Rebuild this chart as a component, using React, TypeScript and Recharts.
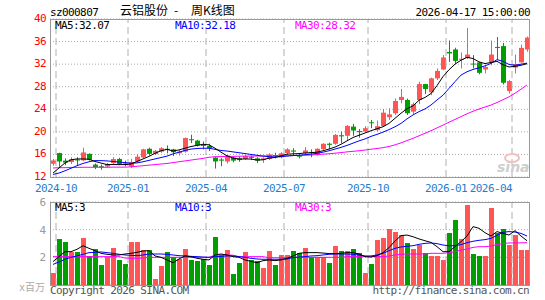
import { ComposedChart, Bar, Line, XAxis, YAxis, CartesianGrid, ReferenceLine } from 'recharts';

const RED = '#ff5555';
const GREEN = '#009f00';
const MONO = '"DejaVu Sans Mono", "Liberation Mono", monospace';
const CJK = '"Noto Sans CJK SC", "Noto Sans", sans-serif';

// weekly candles, 2024-09 .. 2026-04-17
const OPEN = [
  14.35, 16.24, 14.9, 14.65, 15.1, 14.95, 16.1, 14.2, 13.9, 13.87,
  14.47, 15.2, 14.4, 13.87, 14.75, 15.46, 17.0, 16.06, 16.5, 17.0,
  16.9, 16.2, 16.5, 18.7, 18.45, 17.7, 17.5, 15.45, 15.1, 14.75,
  15.45, 15.3, 15.2, 15.6, 15.3, 15.0, 15.2, 15.9, 15.5, 16.24,
  16.7, 15.8, 16.24, 16.45, 15.94, 16.94, 17.9, 17.88, 19.4, 19.3,
  20.93, 20.15, 20.05, 21.7, 20.3, 21.05, 22.6, 23.3, 25.65, 25.65,
  23.58, 25.65, 28.47, 27.0, 29.48, 31.06, 34.17, 34.6, 32.8, 33.1,
  32.1, 32.3, 31.06, 32.3, 35.05, 35.2, 27.23, 31.4, 32.3, 34.6,
];
const CLOSE = [
  14.93, 14.75, 14.55, 15.15, 14.95, 16.35, 15.05, 13.75, 13.7, 14.3,
  15.18, 14.3, 14.15, 14.65, 15.6, 16.9, 16.1, 16.64, 17.1, 16.8,
  16.4, 16.5, 18.9, 18.55, 17.6, 17.5, 17.1, 14.75, 14.9, 15.8,
  14.9, 15.0, 15.7, 15.4, 14.9, 15.3, 16.0, 15.8, 16.2, 16.9,
  16.5, 15.6, 16.7, 16.3, 17.0, 17.88, 17.7, 19.47, 19.2, 21.05,
  20.23, 19.95, 20.65, 21.55, 21.0, 23.4, 23.1, 25.47, 26.2, 23.3,
  24.89, 28.47, 27.59, 29.48, 30.8, 33.18, 33.9, 32.58, 32.95, 33.7,
  31.95, 30.46, 31.5, 33.7, 34.9, 28.7, 29.0, 32.0, 34.88, 36.7,
];
const HIGH = [
  15.2, 16.3, 15.3, 15.5, 15.5, 17.2, 16.2, 14.4, 14.2, 14.5,
  15.5, 15.4, 14.9, 15.2, 16.0, 17.0, 17.2, 16.8, 17.3, 17.6,
  17.0, 16.8, 19.0, 19.5, 18.6, 18.3, 17.9, 15.5, 15.35, 15.9,
  15.6, 15.6, 15.9, 15.8, 15.5, 15.5, 16.2, 16.3, 16.4, 17.1,
  17.1, 16.1, 17.3, 16.9, 17.1, 18.0, 18.1, 19.6, 20.05, 21.2,
  21.4, 20.5, 21.0, 22.1, 22.0, 24.05, 24.2, 25.9, 27.6, 25.9,
  25.2, 28.9, 28.5, 29.6, 31.24, 33.6, 36.2, 34.9, 34.07, 38.4,
  33.6, 32.4, 31.7, 36.2, 36.8, 35.76, 29.2, 33.7, 35.46, 36.9,
];
const LOW = [
  14.0, 13.8, 14.1, 14.3, 14.1, 14.8, 14.9, 13.4, 13.3, 13.7,
  14.2, 14.1, 13.9, 13.6, 14.6, 15.3, 15.8, 15.9, 16.3, 16.2,
  15.7, 15.8, 16.3, 18.0, 17.4, 16.9, 16.6, 13.5, 13.9, 14.4,
  14.6, 14.7, 15.0, 15.0, 14.5, 14.5, 15.0, 15.3, 15.3, 16.0,
  15.9, 15.3, 15.9, 15.5, 15.8, 16.8, 16.9, 17.7, 18.0, 18.46,
  19.3, 19.0, 19.9, 20.65, 20.1, 21.0, 22.1, 23.0, 25.06, 23.0,
  23.1, 24.9, 26.7, 26.5, 29.18, 30.94, 32.4, 32.1, 31.24, 32.9,
  31.24, 30.2, 30.36, 31.8, 32.7, 28.4, 26.8, 30.36, 32.3, 34.2,
];
// volume, x百万
const VOLUME = [
  0.89, 3.32, 3.1, 2.4, 2.4, 3.39, 2.1, 2.6, 1.44, 2.05,
  2.67, 1.8, 1.52, 3.1, 3.1, 2.5, 2.5, 0.43, 1.37, 2.38,
  2.05, 1.9, 2.6, 1.8, 1.73, 1.85, 1.44, 3.46, 2.16, 2.52,
  0.8, 1.62, 2.35, 1.8, 1.75, 1.2, 2.45, 1.45, 2.2, 2.2,
  2.48, 2.29, 2.7, 2.0, 2.0, 2.0, 1.61, 2.82, 2.46, 2.46,
  2.63, 2.34, 0.89, 1.52, 3.25, 3.42, 4.05, 3.83, 3.6, 3.04,
  2.6, 2.87, 2.31, 2.12, 2.12, 1.81, 3.76, 4.7, 3.33, 5.78,
  2.24, 2.1, 2.1, 5.58, 3.75, 4.02, 2.9, 3.62, 2.54, 2.54,
];
const MA5 = [
  12.7, 13.6, 14.5, 15.05, 15.2, 15.2, 15.15, 14.75, 14.47, 14.2,
  14.2, 14.2, 14.2, 14.3, 14.75, 15.2, 15.65, 16.2, 16.65, 16.9,
  16.6, 16.8, 17.1, 17.4, 17.6, 17.8, 17.7, 17.1, 16.4, 15.75,
  15.35, 15.18, 15.2, 15.18, 15.0, 15.05, 15.35, 15.46, 15.75, 16.05,
  16.1, 16.15, 16.25, 16.3, 16.4, 16.65, 16.95, 17.3, 17.8, 18.4,
  19.0, 19.4, 19.8, 20.2, 20.55, 20.9, 21.5, 22.4, 23.3, 24.1,
  24.6, 25.6, 26.1, 26.8, 28.2, 29.8, 31.0, 32.0, 32.7, 33.2,
  33.0, 32.4, 32.1, 32.3, 32.5, 31.9, 31.5, 31.6, 31.8, 32.07,
];
const MA10 = [
  12.45, 12.7, 13.1, 13.55, 14.0, 14.4, 14.7, 14.9, 14.9, 14.85,
  14.75, 14.65, 14.55, 14.45, 14.5, 14.7, 14.95, 15.2, 15.45, 15.7,
  16.1, 16.4, 16.7, 16.95, 17.05, 17.1, 17.1, 16.9, 16.7, 16.6,
  16.45, 16.3, 16.15, 16.0, 15.85, 15.7, 15.6, 15.55, 15.6, 15.7,
  15.8, 15.85, 15.95, 16.05, 16.2, 16.4, 16.65, 16.95, 17.25, 17.6,
  18.0, 18.4, 18.75, 19.2, 19.55, 19.95, 20.4, 20.9, 21.5, 22.3,
  23.0, 23.58, 24.06, 24.76, 25.65, 26.5, 27.7, 28.9, 30.06, 30.65,
  31.06, 31.35, 31.7, 32.12, 32.8, 32.5, 31.95, 31.8, 32.0, 32.18,
];
const MA30 = [
  13.6, 13.65, 13.65, 13.7, 13.7, 13.72, 13.72, 13.72, 13.72, 13.72,
  13.75, 13.75, 13.75, 13.8, 13.9, 14.0, 14.1, 14.2, 14.3, 14.4,
  14.55, 14.7, 14.85, 15.0, 15.15, 15.3, 15.5, 15.6, 15.62, 15.64,
  15.66, 15.68, 15.7, 15.7, 15.72, 15.72, 15.74, 15.75, 15.76, 15.78,
  15.8, 15.82, 15.86, 15.9, 15.96, 16.05, 16.12, 16.22, 16.32, 16.45,
  16.55, 16.65, 16.78, 16.92, 17.05, 17.2, 17.4, 17.7, 18.05, 18.45,
  18.85, 19.3, 19.75, 20.2, 20.7, 21.2, 21.7, 22.2, 22.7, 23.2,
  23.65, 24.05, 24.4, 24.75, 25.2, 25.7, 26.2, 26.85, 27.55, 28.32,
];
const VMA5 = [
  1.69, 2.05, 2.41, 2.41, 2.58, 2.84, 2.65, 2.48, 2.29, 2.22,
  2.17, 2.17, 2.24, 2.29, 2.36, 2.46, 2.48, 2.1, 2.0, 1.81,
  1.61, 1.88, 2.1, 2.05, 1.93, 1.86, 1.81, 2.17, 2.24, 2.17,
  2.05, 2.0, 1.81, 1.71, 1.61, 1.76, 1.81, 1.76, 1.81, 1.93,
  2.1, 2.29, 2.34, 2.34, 2.34, 2.31, 2.27, 2.27, 2.29, 2.34,
  2.34, 2.24, 2.05, 2.02, 2.12, 2.34, 2.7, 3.18, 3.57, 3.61,
  3.49, 3.33, 3.2, 3.08, 2.77, 2.41, 2.41, 2.77, 3.13, 3.54,
  4.22, 4.1, 3.78, 3.54, 3.86, 3.73, 3.61, 3.93, 3.54, 3.2,
];
const VMA10 = [
  1.49, 1.66, 1.86, 2.0, 2.1, 2.22, 2.34, 2.36, 2.39, 2.34,
  2.29, 2.22, 2.17, 2.14, 2.12, 2.17, 2.24, 2.24, 2.24, 2.22,
  2.17, 2.12, 2.1, 2.07, 2.05, 2.02, 2.0, 2.05, 2.07, 2.1,
  2.1, 2.05, 2.0, 1.93, 1.88, 1.86, 1.86, 1.86, 1.86, 1.88,
  1.98, 2.02, 2.05, 2.1, 2.12, 2.17, 2.22, 2.24, 2.24, 2.24,
  2.22, 2.17, 2.1, 2.1, 2.17, 2.29, 2.48, 2.65, 2.75, 2.8,
  2.84, 2.94, 3.01, 3.04, 2.99, 2.89, 2.84, 2.84, 2.92, 3.06,
  3.16, 3.23, 3.28, 3.37, 3.59, 3.81, 3.86, 3.83, 3.73, 3.54,
];
const VMA30 = [
  2.05, 2.05, 2.05, 2.05, 2.05, 2.05, 2.05, 2.05, 2.05, 2.05,
  2.05, 2.05, 1.95, 1.93, 1.93, 1.95, 2.0, 2.0, 2.0, 2.0,
  2.0, 2.0, 2.0, 2.0, 2.0, 2.0, 2.0, 2.15, 2.17, 2.17,
  2.15, 2.05, 2.05, 2.05, 2.05, 2.05, 1.97, 1.97, 1.97, 1.97,
  2.0, 2.0, 2.0, 2.0, 2.0, 2.0, 2.0, 2.0, 2.0, 2.05,
  2.05, 2.05, 2.05, 2.05, 2.05, 2.05, 2.1, 2.17, 2.22, 2.24,
  2.24, 2.24, 2.24, 2.29, 2.29, 2.29, 2.34, 2.41, 2.53, 2.6,
  2.72, 2.77, 2.77, 2.82, 2.92, 2.99, 3.04, 3.04, 3.05, 3.06,
];

const TICK_INDEX = [1, 13, 26, 39, 53, 66, 77];
const TICK_LABELS = ['2024-10', '2025-01', '2025-04', '2025-07', '2025-10', '2026-01', '2026-04'];
const PRICE_TICKS = [12, 16, 20, 24, 28, 32, 36, 40];
const VOL_TICKS = [2, 4, 6];

const data = OPEN.map((o, i) => ({
  i,
  open: o,
  close: CLOSE[i],
  high: HIGH[i],
  low: LOW[i],
  range: [LOW[i], HIGH[i]],
  vol: VOLUME[i],
  ma5: MA5[i],
  ma10: MA10[i],
  ma30: MA30[i],
  vma5: VMA5[i],
  vma10: VMA10[i],
  vma30: VMA30[i],
}));

function Candle(props: any) {
  const { x, y, height, payload } = props;
  if (x == null || !payload) return null;
  const { open, close, high, low } = payload;
  const color = close >= open ? RED : GREEN;
  const top = Math.min(y, y + height);
  const h = Math.abs(height);
  const k = high > low ? h / (high - low) : 0;
  const yOf = (v: number) => top + (high - v) * k;
  const bTop = yOf(Math.max(open, close));
  const bBot = yOf(Math.min(open, close));
  const cx = Math.round(x) + 3.5;
  return (
    <g>
      <line x1={cx} x2={cx} y1={top} y2={top + h} stroke={color} strokeWidth={1} />
      <rect x={Math.round(x) + 1} y={bTop} width={5} height={Math.max(1, bBot - bTop)} fill={color} />
    </g>
  );
}

function VolBar(props: any) {
  const { x, y, height, payload } = props;
  if (x == null || !payload) return null;
  const color = payload.close >= payload.open ? RED : GREEN;
  return <rect x={Math.round(x) + 1} y={y} width={5} height={Math.max(0, height)} fill={color} shapeRendering="crispEdges" />;
}

function DateTick(props: any) {
  const { x, payload } = props;
  const k = TICK_INDEX.indexOf(payload.value);
  if (k < 0) return null;
  const last = k === TICK_INDEX.length - 1;
  return (
    <text
      x={x - 3}
      y={192}
      textAnchor={last ? 'end' : 'middle'}
      fill="#1f7ed0"
      fontSize={11}
      fontFamily={MONO}
      style={{ letterSpacing: '-0.6px' }}
    >
      {TICK_LABELS[k]}
    </text>
  );
}

function PriceTick(props: any) {
  const { x, y, payload } = props;
  return (
    <text x={x} y={y + 3} textAnchor="end" fill="#ff0000" fontSize={11} fontFamily={MONO} style={{ letterSpacing: '-0.6px' }}>
      {payload.value}
    </text>
  );
}

function VolTick(props: any) {
  const { x, y, payload } = props;
  return (
    <text x={x} y={y + 4} textAnchor="end" fill="#999999" fontSize={11} fontFamily={MONO}>
      {payload.value}
    </text>
  );
}

const vlines = TICK_INDEX.map((t) => (
  <ReferenceLine key={t} x={t} position="start" stroke="#b0b0b0" strokeDasharray="7 4" />
));

export default function App() {
  const txt = { fontFamily: MONO, fontSize: 11, letterSpacing: '-0.6px' } as const;
  return (
    <div style={{ position: 'absolute', left: 0, top: 0, width: 545, height: 300, background: '#fff', overflow: 'hidden' }}>
      <div style={{ position: 'absolute', left: 0, top: 0 }}>
        <ComposedChart width={545} height={200} data={data} margin={{ top: 19, right: 15, left: 0, bottom: 0 }} barCategoryGap={0}>
          <CartesianGrid vertical={false} stroke="#aaaaaa" strokeDasharray="1 2" />
          {vlines}
          <XAxis dataKey="i" type="category" ticks={TICK_INDEX} interval={0} tick={<DateTick />} tickLine={false} axisLine={false} height={23} />
          <YAxis domain={[12, 40]} ticks={PRICE_TICKS} interval={0} allowDataOverflow width={50} tickSize={0} tickMargin={4} tick={<PriceTick />} axisLine={false} tickLine={false} />
          <Bar dataKey="range" shape={<Candle />} isAnimationActive={false} />
          <Line dataKey="ma30" stroke="#ff00ff" strokeWidth={1} dot={false} activeDot={false} isAnimationActive={false} />
          <Line dataKey="ma10" stroke="#0000ff" strokeWidth={1} dot={false} activeDot={false} isAnimationActive={false} />
          <Line dataKey="ma5" stroke="#000000" strokeWidth={1} dot={false} activeDot={false} isAnimationActive={false} />
        </ComposedChart>
      </div>
      <div style={{ position: 'absolute', left: 0, top: 190 }}>
        <ComposedChart width={545} height={110} data={data} margin={{ top: 12, right: 15, left: 0, bottom: 15 }} barCategoryGap={0}>
          <CartesianGrid vertical={false} stroke="#aaaaaa" strokeDasharray="1 2" />
          {vlines}
          <XAxis dataKey="i" type="category" hide />
          <YAxis domain={[0, 6]} ticks={VOL_TICKS} interval={0} allowDataOverflow width={50} tickSize={0} tickMargin={4} tick={<VolTick />} axisLine={false} tickLine={false} />
          <Bar dataKey="vol" shape={<VolBar />} isAnimationActive={false} />
          <Line dataKey="vma30" stroke="#ff00ff" strokeWidth={1} dot={false} activeDot={false} isAnimationActive={false} />
          <Line dataKey="vma10" stroke="#0000ff" strokeWidth={1} dot={false} activeDot={false} isAnimationActive={false} />
          <Line dataKey="vma5" stroke="#000000" strokeWidth={1} dot={false} activeDot={false} isAnimationActive={false} />
        </ComposedChart>
      </div>
      <svg width={545} height={300} style={{ position: 'absolute', left: 0, top: 0, pointerEvents: 'none' }}>
        <rect x={50.5} y={19.5} width={479} height={158} fill="none" stroke="#999999" />
        <rect x={50.5} y={202.5} width={479} height={83} fill="none" stroke="#999999" />
        <text x={50} y={16} fill="#000" style={txt}>sz000807</text>
        <text x={120} y={15} fill="#000" fontFamily={CJK} fontSize={12}>云铝股份</text>
        <text x={174} y={15} fill="#000" fontFamily={CJK} fontSize={12}>-</text>
        <text x={191} y={15} fill="#000" fontFamily={CJK} fontSize={12}>周K线图</text>
        <text x={530} y={16} textAnchor="end" fill="#000" style={txt}>2026-04-17 15:00:00</text>
        <text x={55} y={29} fill="#000" style={txt}>MA5:32.07</text>
        <text x={175} y={29} fill="#0000ff" style={txt}>MA10:32.18</text>
        <text x={295} y={29} fill="#ff00ff" style={txt}>MA30:28.32</text>
        <text x={55} y={211} fill="#000" style={txt}>MA5:3</text>
        <text x={175} y={211} fill="#0000ff" style={txt}>MA10:3</text>
        <text x={295} y={211} fill="#ff00ff" style={txt}>MA30:3</text>
        <text x={45} y={291} textAnchor="end" fill="#aaaaaa" fontFamily={`${MONO}, ${CJK}`} fontSize={10}>x百万</text>
        <text x={50} y={294} fill="#555" style={txt}>Copyright 2026 SINA.COM</text>
        <text x={529} y={294} textAnchor="end" fill="#555" style={txt}>http://finance.sina.com.cn</text>
        <ellipse cx={512} cy={158} rx={7} ry={4} fill="none" stroke="#f3c0c0" strokeWidth={2} />
        <text x={497} y={172} fill="#cfcfcf" fontFamily="'DejaVu Sans', sans-serif" fontSize={14} fontWeight="bold" fontStyle="italic">sina</text>
      </svg>
    </div>
  );
}
